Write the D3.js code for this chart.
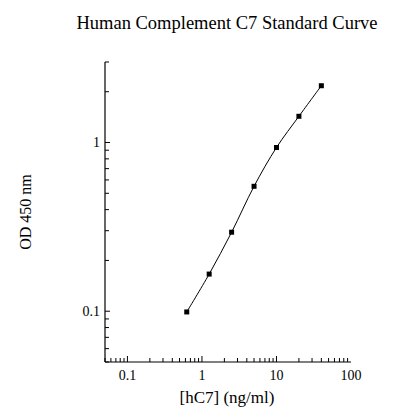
<!DOCTYPE html>
<html>
<head>
<meta charset="utf-8">
<script src="https://cdn.jsdelivr.net/npm/d3@7"></script>
<style>
  body { margin: 0; background: #fff; }
  text { font-family: "Liberation Serif", "Times New Roman", serif; fill: #000; }
</style>
</head>
<body>
<div id="chart"></div>
<script>
// standard curve points
const conc = [0.625, 1.25, 2.5, 5, 10, 20, 40];
const od = [0.099, 0.166, 0.294, 0.55, 0.934, 1.43, 2.17];
const xTicks = [0.1, 1, 10, 100];
const yTicks = [0.1, 1];

drawChart();

function drawChart() {
  const width = 393;
  const height = 420;
  const margin = { left: 105, top: 62, right: 42, bottom: 58 };
  const innerWidth = width - margin.left - margin.right;
  const innerHeight = height - margin.top - margin.bottom;

  const svg = d3.select("#chart").append("svg")
    .attr("width", width)
    .attr("height", height);

  svg.append("text")
    .attr("x", 227)
    .attr("y", 29)
    .style("text-anchor", "middle")
    .style("font-size", "18.5px")
    .text("Human Complement C7 Standard Curve");

  const g = svg.append("g")
    .attr("transform", `translate(${margin.left},${margin.top})`);

  const x = d3.scaleLog().domain([0.05, 100]).range([0, innerWidth]);
  const y = d3.scaleLog().domain([0.05, 3]).range([innerHeight, 0]);

  // minor ticks
  const xMinor = [];
  for (let p = -2; p <= 1; p++) {
    for (let k = 1; k <= 9; k++) {
      const v = k * Math.pow(10, p);
      if (v >= 0.05 && v <= 100) xMinor.push(v);
    }
  }
  const yMinor = [];
  for (let p = -2; p <= 0; p++) {
    for (let k = 1; k <= 9; k++) {
      const v = k * Math.pow(10, p);
      if (v >= 0.05 && v <= 3) yMinor.push(v);
    }
  }

  const xAxis = g.append("g").attr("transform", `translate(0,${innerHeight})`);
  xAxis.append("line")
    .attr("x1", 0).attr("x2", innerWidth)
    .attr("stroke", "#000").attr("stroke-width", 1.2);
  xAxis.selectAll(".minor")
    .data(xMinor)
    .join("line")
    .attr("x1", (d) => x(d)).attr("x2", (d) => x(d))
    .attr("y1", 0).attr("y2", (d) => xTicks.includes(d) ? -6 : -4)
    .attr("stroke", "#000");
  xAxis.selectAll(".lbl")
    .data(xTicks)
    .join("text")
    .attr("x", (d) => x(d))
    .attr("y", 18)
    .style("text-anchor", "middle")
    .style("font-size", "14px")
    .text((d) => d);

  const yAxis = g.append("g");
  yAxis.append("line")
    .attr("y1", 0).attr("y2", innerHeight)
    .attr("stroke", "#000").attr("stroke-width", 1.2);
  yAxis.selectAll(".minor")
    .data(yMinor)
    .join("line")
    .attr("y1", (d) => y(d)).attr("y2", (d) => y(d))
    .attr("x1", 0).attr("x2", (d) => yTicks.includes(d) ? 5 : 4)
    .attr("stroke", "#000");
  yAxis.selectAll(".lbl")
    .data(yTicks)
    .join("text")
    .attr("x", -5)
    .attr("y", (d) => y(d))
    .attr("dy", "0.35em")
    .style("text-anchor", "end")
    .style("font-size", "14px")
    .text((d) => d);

  const pts = conc.map((c, i) => [c, od[i]]);
  const line = d3.line()
    .x((d) => x(d[0]))
    .y((d) => y(d[1]))
    .curve(d3.curveCatmullRom);
  g.append("path")
    .attr("d", line(pts))
    .attr("fill", "none")
    .attr("stroke", "#000")
    .attr("stroke-width", 1);

  g.selectAll(".pt")
    .data(pts)
    .join("rect")
    .attr("x", (d) => x(d[0]) - 2.5)
    .attr("y", (d) => y(d[1]) - 2.5)
    .attr("width", 5)
    .attr("height", 5)
    .attr("fill", "#000");

  svg.append("text")
    .attr("transform", `translate(31,212) rotate(-90)`)
    .style("text-anchor", "middle")
    .style("font-size", "16px")
    .text("OD 450 nm");

  svg.append("text")
    .attr("x", 227)
    .attr("y", 403)
    .style("text-anchor", "middle")
    .style("font-size", "17px")
    .text("[hC7] (ng/ml)");
}
</script>
</body>
</html>
